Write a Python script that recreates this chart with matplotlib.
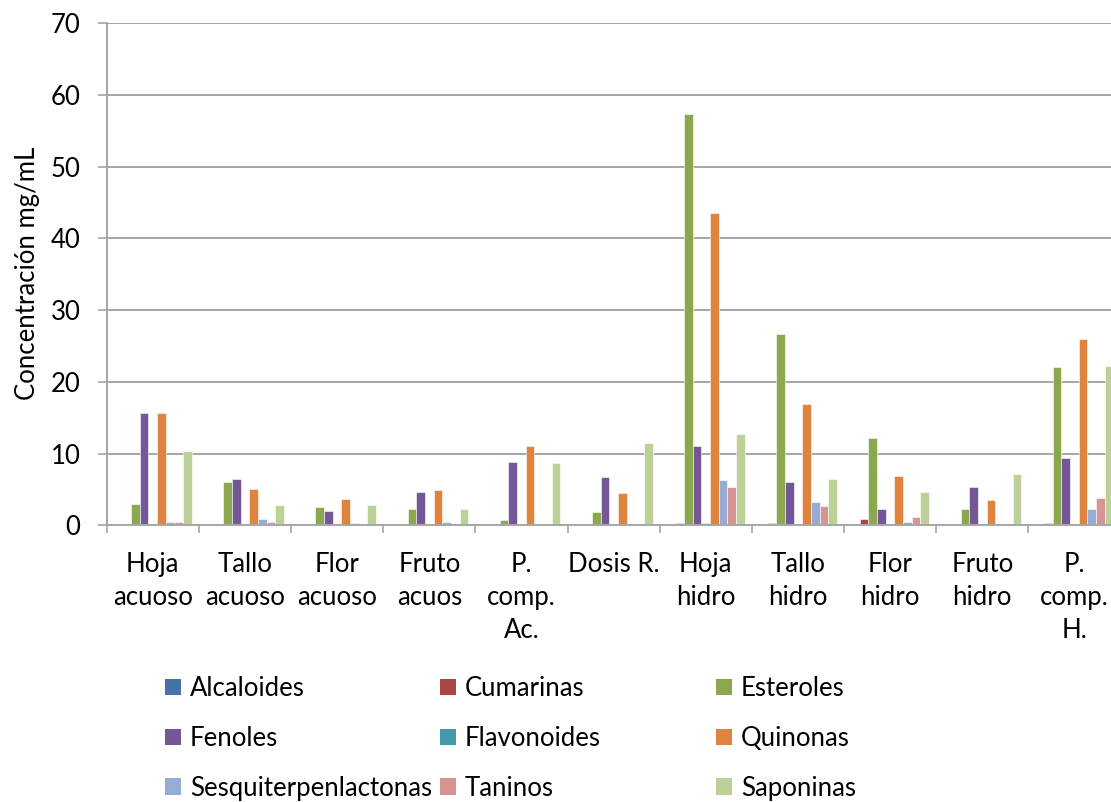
import numpy as np
import matplotlib
matplotlib.use("Agg")
import matplotlib.pyplot as plt
from matplotlib.patches import Patch

plt.rcParams['font.family'] = ['Lato', 'DejaVu Sans']

categories = ["Hoja\nacuoso", "Tallo\nacuoso", "Flor\nacuoso", "Fruto\nacuos",
              "P.\ncomp.\nAc.", "Dosis R.", "Hoja\nhidro", "Tallo\nhidro",
              "Flor\nhidro", "Fruto\nhidro", "P.\ncomp.\nH."]

series_names = ["Alcaloides", "Cumarinas", "Esteroles", "Fenoles", "Flavonoides",
                "Quinonas", "Sesquiterpenlactonas", "Taninos", "Saponinas"]

alcaloides = [0.0, 0.0, 0.0, 0.0, 0.0, 0.0, 0.0, 0.0, 0.0, 0.0, 0.0]
cumarinas = [0.1, 0.1, 0.1, 0.05, 0.05, 0.05, 0.3, 0.3, 0.9, 0.2, 0.3]
esteroles = [3.0, 6.0, 2.6, 2.3, 0.75, 1.9, 57.4, 26.7, 12.2, 2.2, 22.0]
fenoles = [15.6, 6.5, 2.0, 4.7, 8.8, 6.7, 11.0, 6.0, 2.2, 5.3, 9.4]
flavonoides = [0.2, 0.0, 0.0, 0.0, 0.2, 0.1, 0.3, 0.1, 0.0, 0.1, 0.2]
quinonas = [15.7, 5.1, 3.6, 4.9, 11.1, 4.5, 43.5, 16.9, 6.8, 3.5, 26.0]
sesquiterpenlactonas = [0.4, 0.85, 0.35, 0.4, 0.0, 0.0, 6.3, 3.2, 0.4, 0.0, 2.2]
taninos = [0.4, 0.5, 0.1, 0.0, 0.0, 0.1, 5.3, 2.7, 1.15, 0.0, 3.8]
saponinas = [10.3, 2.8, 2.8, 2.3, 8.7, 11.4, 12.7, 6.5, 4.7, 7.1, 22.2]

series_values = [alcaloides, cumarinas, esteroles, fenoles, flavonoides,
                 quinonas, sesquiterpenlactonas, taninos, saponinas]

colors = ["#4572A7", "#AA4643", "#8BA84F", "#735796", "#4198AF",
          "#DE843E", "#95ADD5", "#D69594", "#BCD198"]

y_ticks = [0, 10, 20, 30, 40, 50, 60, 70]

FS = 18.5

W, H = 1111, 802
fig = plt.figure(figsize=(W / 100, H / 100), dpi=100)
ax_left, ax_bottom, ax_top, ax_right = 106.7, 525.2, 23.3, 1120.5
ax = fig.add_axes([ax_left / W, (H - ax_bottom) / H,
                   (ax_right - ax_left) / W, (ax_bottom - ax_top) / H])

grid_color = "#A6A6A6"
x = np.arange(len(categories))
bar_w = 0.094
n = len(series_values)
for i, (name, vals, c) in enumerate(zip(series_names, series_values, colors)):
    offs = (i - (n - 1) / 2) * bar_w
    ax.bar(x + offs, vals, width=bar_w, color=c, edgecolor="white",
           linewidth=0.4, label=name, zorder=3)

ax.set_xlim(-0.5, len(categories) - 0.5)
ax.set_ylim(0, 70)
ax.set_yticks(y_ticks)
ax.yaxis.grid(True, color=grid_color, linewidth=1.4, zorder=0)
ax.set_axisbelow(True)

for s in ["top", "right"]:
    ax.spines[s].set_visible(False)
for s in ["left", "bottom"]:
    ax.spines[s].set_color(grid_color)
    ax.spines[s].set_linewidth(1.4)
    ax.spines[s].set_zorder(4)

ax.tick_params(axis="y", length=6.5, width=1.2, color=grid_color,
               labelsize=FS, pad=12.5)
ax.set_xticks(x)
ax.set_xticklabels(categories, fontsize=FS, linespacing=1.4, va="top")
ax.set_xticks(np.arange(-0.5, len(categories) + 0.5, 1.0), minor=True)
ax.tick_params(axis="x", which="major", length=0, pad=19.5)
ax.tick_params(axis="x", which="minor", length=6, width=1.2, color=grid_color)

fig.text(28 / W, 1 - 273 / H, "Concentración mg/mL", rotation=90,
         fontsize=18.5, ha="center", va="center")

# legend laid out as three columns of three entries, row-major order
col_x = [165, 440, 716]
for col in range(3):
    idx = [col, col + 3, col + 6]
    handles = [Patch(facecolor=colors[k], edgecolor="none") for k in idx]
    labels = [series_names[k] for k in idx]
    fig.legend(handles, labels, loc="upper left",
               bbox_to_anchor=(col_x[col] / W, 1 - 676 / H),
               frameon=False, fontsize=FS, handlelength=0.62, handleheight=0.62,
               handletextpad=0.35, labelspacing=0.97, borderaxespad=0,
               borderpad=0)

fig.savefig("out.png", dpi=100, facecolor="white")
